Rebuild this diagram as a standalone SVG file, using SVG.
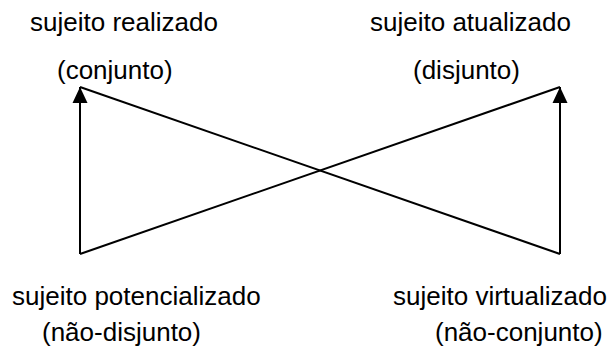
<svg xmlns="http://www.w3.org/2000/svg" width="613" height="357" viewBox="0 0 613 357">
<style>
text{font-family:"Liberation Sans",Arial,sans-serif;font-size:26px;fill:#000}
.ln{stroke:#000;stroke-width:2;fill:none}
</style>
<defs>
<marker id="ah" markerWidth="16" markerHeight="16" viewBox="0 0 16 16" refX="16" refY="8" orient="auto" markerUnits="userSpaceOnUse">
<path d="M0,0.5 L16,8 L0,15.5 Z" fill="#000"/>
</marker>
</defs>
<rect width="613" height="357" fill="#fff"/>
<g id="connectors">
<line class="ln" x1="80" y1="254" x2="80" y2="87" marker-end="url(#ah)"/>
<line class="ln" x1="560" y1="254" x2="560" y2="87" marker-end="url(#ah)"/>
<line class="ln" x1="80" y1="87" x2="560" y2="254"/>
<line class="ln" x1="80" y1="254" x2="560" y2="87"/>
</g>
<g id="realizado">
<text x="30" y="31">sujeito realizado</text>
<text x="57" y="79">(conjunto)</text>
</g>
<g id="atualizado">
<text x="370" y="31">sujeito atualizado</text>
<text x="413" y="79">(disjunto)</text>
</g>
<g id="potencializado">
<text x="12" y="305">sujeito potencializado</text>
<text x="42" y="341">(não-disjunto)</text>
</g>
<g id="virtualizado">
<text x="393" y="305">sujeito virtualizado</text>
<text x="435" y="341">(não-conjunto)</text>
</g>
</svg>
